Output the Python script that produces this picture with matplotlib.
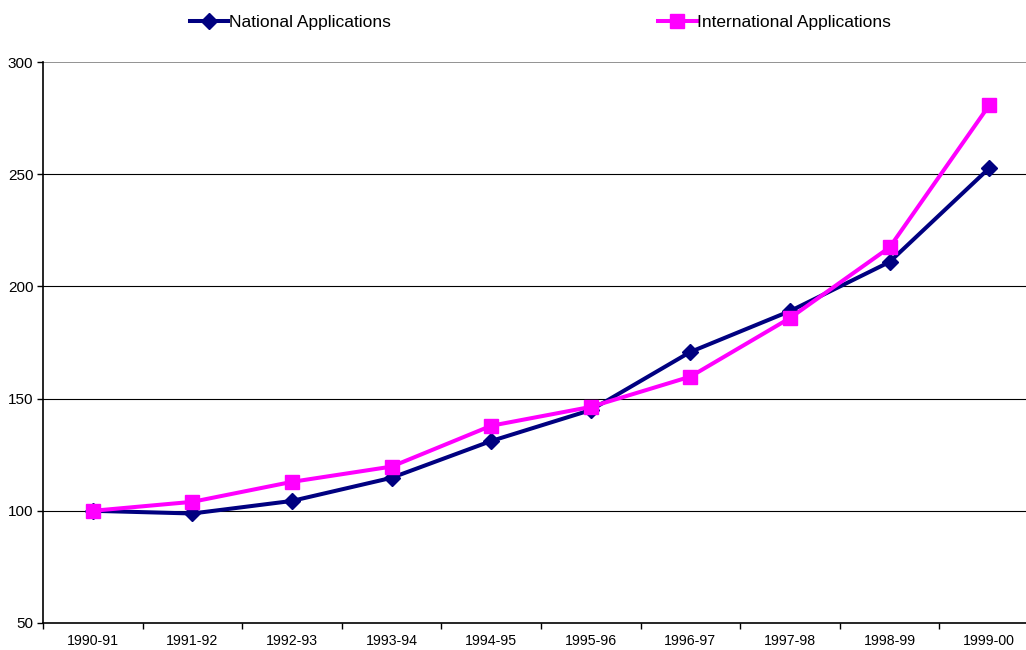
import numpy as np
import matplotlib.pyplot as plt

plt.rcParams['font.family'] = ['Liberation Sans', 'DejaVu Sans']

years = ['1990-91', '1991-92', '1992-93', '1993-94', '1994-95',
         '1995-96', '1996-97', '1997-98', '1998-99', '1999-00']
national = [100, 98.8, 104.4, 114.7, 131.1, 144.9, 170.8, 189.0, 210.9, 252.7]
international = [100, 104.0, 112.9, 119.7, 137.9, 146.3, 159.8, 185.9, 217.4, 280.7]
yticks = [50, 100, 150, 200, 250, 300]

fig = plt.figure(figsize=(10.26, 6.5), dpi=100)
ax = fig.add_axes([43 / 1026, 27 / 650, 996 / 1026, 561 / 650])

x = np.arange(len(years))
ax.plot(x, national, color='#000080', lw=2.9, marker='D', markersize=8.5,
        label='National Applications', zorder=3)
ax.plot(x, international, color='#FF00FF', lw=2.9, marker='s', markersize=10.5,
        label='International Applications', zorder=4)

ax.set_xlim(-0.5, len(years) - 0.5)
ax.set_ylim(50, 300)
ax.set_yticks(yticks)
ax.set_xticks(x)
ax.set_xticklabels(years, fontsize=10.2)
ax.set_xticks(np.arange(len(years) + 1) - 0.5, minor=True)
ax.tick_params(axis='x', which='major', length=0, pad=8)
ax.tick_params(axis='x', which='minor', length=4, width=1, direction='out')
ax.tick_params(axis='y', length=4, width=1, labelsize=11, pad=3)

for v in yticks[1:-1]:
    ax.axhline(v, color='black', lw=0.8, zorder=1)
ax.axhline(300, color='#808080', lw=1.2, zorder=1)

for s in ['top', 'right']:
    ax.spines[s].set_visible(False)
ax.spines['left'].set_linewidth(1.2)
ax.spines['bottom'].set_linewidth(1.2)

fig.legend(loc='center', bbox_to_anchor=(0.527, 0.965), ncol=2, frameon=False,
           fontsize=12.5, handlelength=2.2, handletextpad=0.05, columnspacing=15.4)

fig.savefig('out.png', dpi=100)
